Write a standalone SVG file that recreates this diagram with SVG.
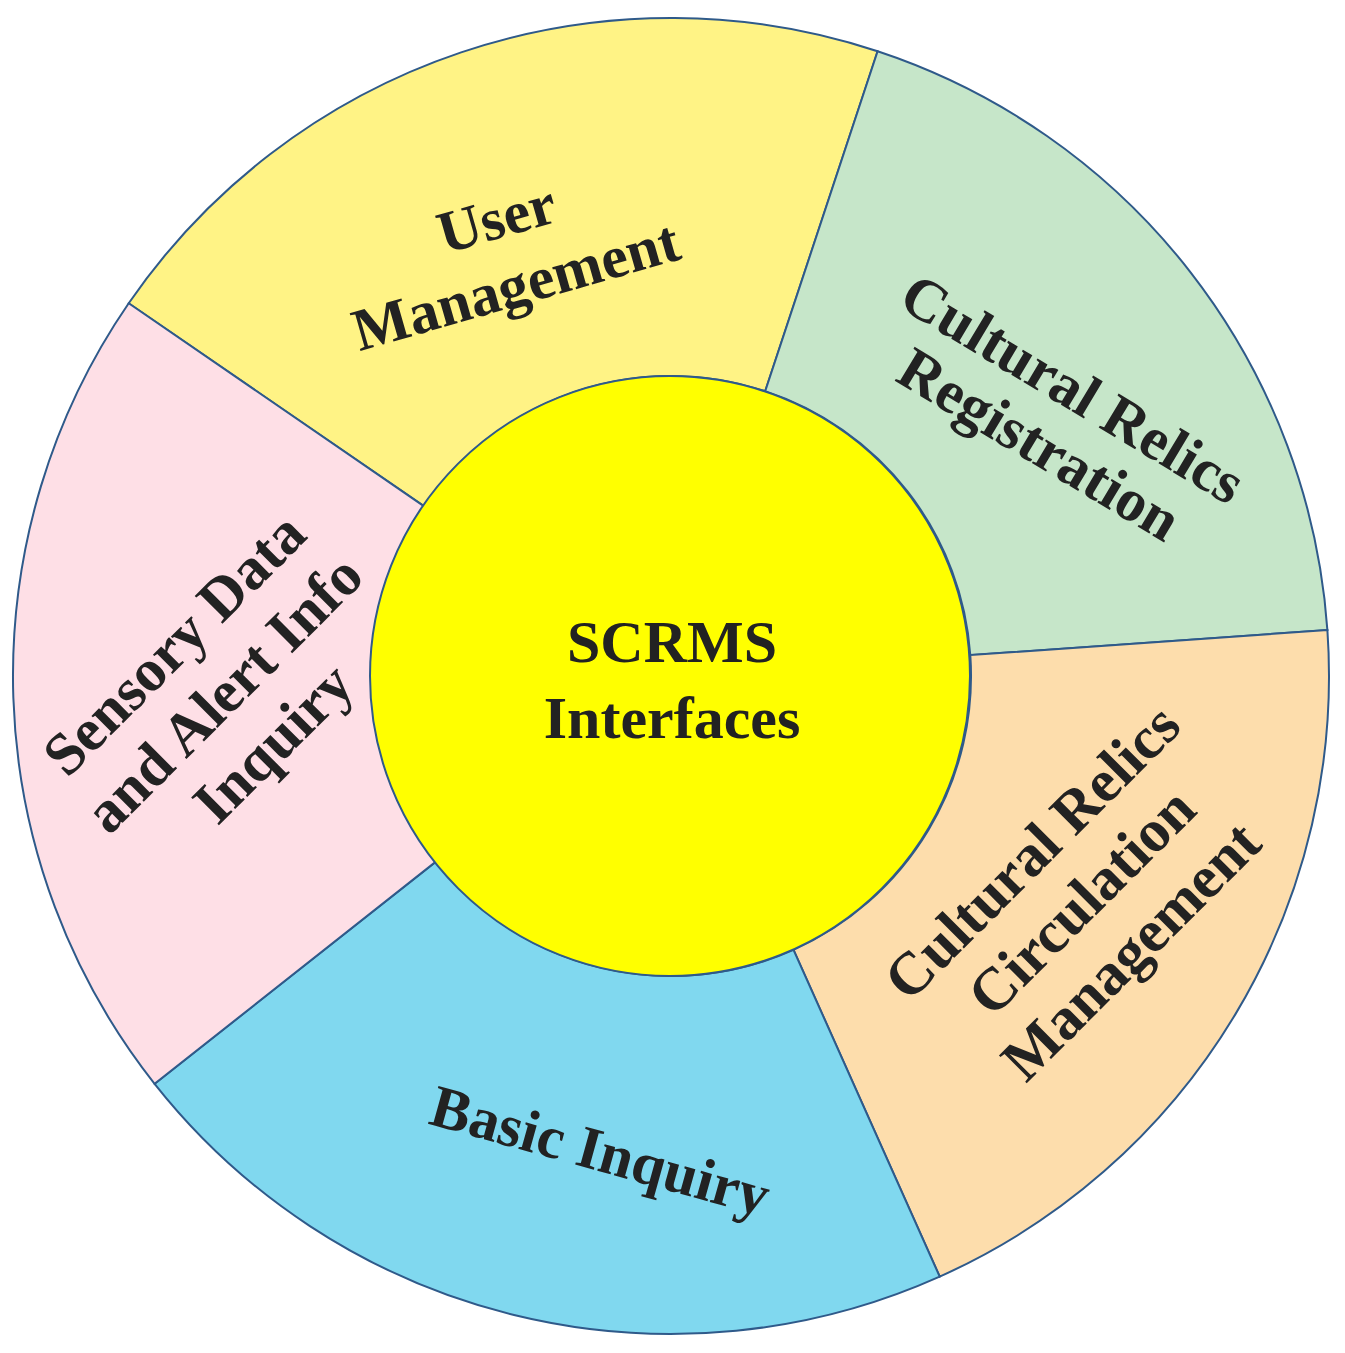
<svg xmlns="http://www.w3.org/2000/svg" width="1345" height="1353" viewBox="0 0 1345 1353">
<style>
.seg{stroke:#2f5a8a;stroke-width:2}
.t{font-family:"Liberation Serif",serif;font-weight:bold;font-size:60px;fill:#222;text-anchor:middle}
</style>
<rect width="1345" height="1353" fill="#fff"/>
<g id="user-management">
<path class="seg" fill="#FFF385" d="M128.7,303.3 A658,658 0 0 1 877.6,51.3 L765.2,391.2 A300,300 0 0 0 423.8,506.1 Z"/>
<g transform="translate(520,300) rotate(-16)"><text class="t" x="0" y="-65">User</text><text class="t" x="0" y="5">Management</text></g>
</g>
<g id="registration">
<path class="seg" fill="#C6E6C9" d="M877.6,51.3 A658,658 0 0 1 1327.4,630.1 L970.3,655.1 A300,300 0 0 0 765.2,391.2 Z"/>
<g transform="translate(1060,410) rotate(31)"><text class="t" x="0" y="-5">Cultural Relics</text><text class="t" x="0" y="60">Registration</text></g>
</g>
<g id="circulation">
<path class="seg" fill="#FDDDAC" d="M1327.4,630.1 A658,658 0 0 1 939.7,1276.6 L793.5,949.8 A300,300 0 0 0 970.3,655.1 Z"/>
<g transform="translate(1085,905) rotate(-45)"><text class="t" x="0" y="-55">Cultural Relics</text><text class="t" x="0" y="15">Circulation</text><text class="t" x="0" y="85">Management</text></g>
</g>
<g id="basic-inquiry">
<path class="seg" fill="#80D8EF" d="M939.7,1276.6 A658,658 0 0 1 154.6,1083.8 L435.6,861.9 A300,300 0 0 0 793.5,949.8 Z"/>
<g transform="translate(595,1170) rotate(15.5)"><text class="t" x="0" y="0">Basic Inquiry</text></g>
</g>
<g id="sensory">
<path class="seg" fill="#FEDFE6" d="M154.6,1083.8 A658,658 0 0 1 128.7,303.3 L423.8,506.1 A300,300 0 0 0 435.6,861.9 Z"/>
<g transform="translate(220,690) rotate(-45)"><text class="t" x="0" y="-45">Sensory Data</text><text class="t" x="0" y="25">and Alert Info</text><text class="t" x="0" y="95">Inquiry</text></g>
</g>
<g id="center">
<circle cx="670" cy="676" r="300" fill="#FFFF00" stroke="#2f5a8a" stroke-width="2"/>
<text class="t" x="672" y="662">SCRMS</text>
<text class="t" x="672" y="738">Interfaces</text>
</g>
<g id="connectors"/>
</svg>
